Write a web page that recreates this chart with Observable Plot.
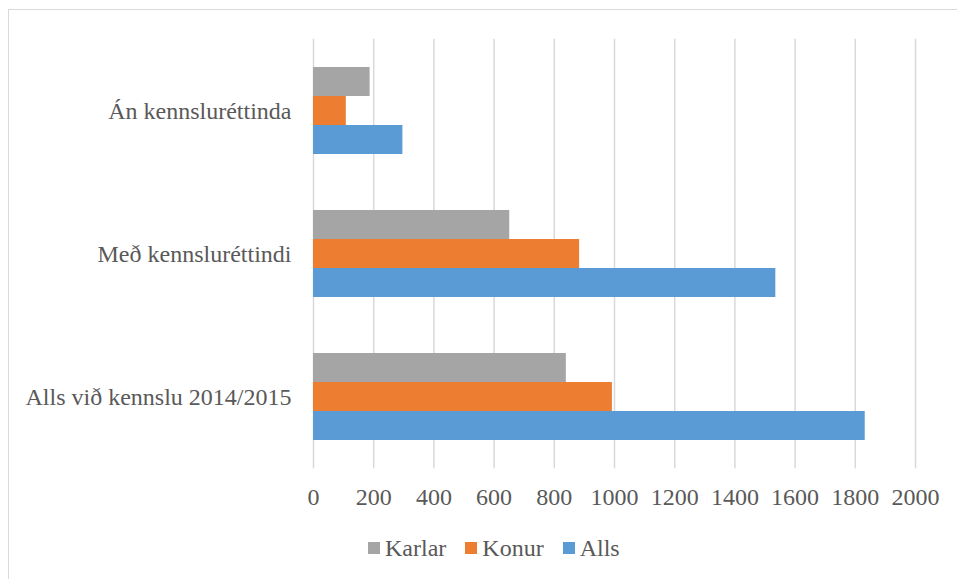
<!DOCTYPE html>
<html>
<head>
<meta charset="utf-8">
<script src="https://cdn.jsdelivr.net/npm/d3@7"></script>
<script src="https://cdn.jsdelivr.net/npm/@observablehq/plot@0.6"></script>
<style>
  html, body { margin: 0; padding: 0; background: #fff; }
  #wrap { position: relative; width: 957px; height: 579px; overflow: hidden; background: #fff; }
  #chart { position: absolute; left: 0; top: 0; }
  #border { position: absolute; left: 8px; top: 9px; width: 1000px; height: 1000px; border: 1px solid #d9d9d9; pointer-events: none; }
  #legend { position: absolute; left: 368px; top: 536px; display: flex; align-items: center;
            font-family: "Liberation Serif", "Times New Roman", serif; font-size: 24px; line-height: 24px; color: #595959; }
  .item { display: flex; align-items: center; margin-right: 19px; }
  .sw { width: 12px; height: 12px; margin-right: 5px; }
</style>
</head>
<body>
<div id="wrap">
  <div id="chart"></div>
  <div id="legend"></div>
  <div id="border"></div>
</div>
<script>
const categories = ["Án kennsluréttinda", "Með kennsluréttindi", "Alls við kennslu 2014/2015"];
const series = ["Karlar", "Konur", "Alls"];
const colors = ["#a5a5a5", "#ed7d31", "#5b9bd5"];
const karlar = [188, 652, 840];
const konur = [109, 884, 993];
const alls = [297, 1536, 1833];
const xTicks = [0, 200, 400, 600, 800, 1000, 1200, 1400, 1600, 1800, 2000];

const valuesBySeries = {Karlar: karlar, Konur: konur, Alls: alls};
const rows = [];
categories.forEach((c, i) => {
  series.forEach(s => rows.push({category: c, series: s, value: valuesBySeries[s][i]}));
});

const W = 957, H = 520, mT = 38, mB = 51;
const padInner = 0.38, padOuter = padInner / 2;
const step = (H - mT - mB) / (categories.length - padInner + 2 * padOuter);
const halfGap = step * padInner / 2;

const chart = Plot.plot({
  width: W,
  height: H,
  marginLeft: 313,
  marginRight: 42,
  marginTop: mT,
  marginBottom: mB,
  style: {
    fontFamily: "'Liberation Serif', 'Times New Roman', serif",
    fontSize: "24px",
    color: "#595959",
    background: "none",
    overflow: "visible"
  },
  x: {domain: [0, 2000], ticks: xTicks, tickSize: 0, tickPadding: 19 + halfGap, label: null, tickFormat: d => String(d)},
  y: {axis: null, domain: series, padding: 0},
  fy: {domain: categories, paddingInner: padInner, paddingOuter: padOuter, label: null, tickSize: 0, tickPadding: 22, axis: "left"},
  color: {domain: series, range: colors},
  marks: [
    Plot.ruleX(xTicks, {stroke: "#d9d9d9", strokeWidth: 1.5, insetTop: -halfGap, insetBottom: -halfGap}),
    Plot.barX(rows, {fy: "category", y: "series", x: "value", fill: "series"})
  ]
});
document.getElementById("chart").appendChild(chart);

const legend = document.getElementById("legend");
series.forEach((s, i) => {
  const item = document.createElement("div");
  item.className = "item";
  const sw = document.createElement("div");
  sw.className = "sw";
  sw.style.background = colors[i];
  const t = document.createElement("span");
  t.textContent = s;
  item.appendChild(sw);
  item.appendChild(t);
  legend.appendChild(item);
});
</script>
</body>
</html>
